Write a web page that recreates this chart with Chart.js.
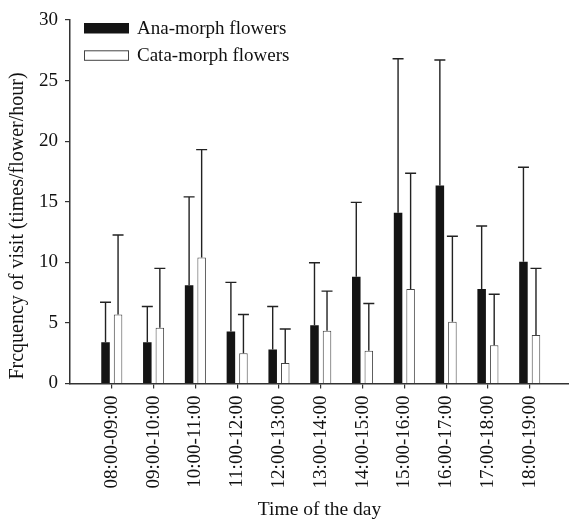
<!DOCTYPE html>
<html>
<head>
<meta charset="utf-8">
<script src="https://cdn.jsdelivr.net/npm/chart.js@4/dist/chart.umd.min.js"></script>
<style>
  html, body { margin: 0; padding: 0; background: #fff; }
  #wrap { width: 569px; height: 522px; }
</style>
</head>
<body>
<div id="wrap"><canvas id="chart"></canvas></div>
<script>
const TIME_LABELS = ['08:00-09:00', '09:00-10:00', '10:00-11:00', '11:00-12:00', '12:00-13:00', '13:00-14:00',
  '14:00-15:00', '15:00-16:00', '16:00-17:00', '17:00-18:00', '18:00-19:00'];
const ANA_MEAN = [3.4, 3.4, 8.1, 4.3, 2.8, 4.8, 8.8, 14.1, 16.35, 7.8, 10.05];
const ANA_UPPER = [6.7, 6.35, 15.4, 8.35, 6.35, 9.97, 14.95, 26.8, 26.7, 13.0, 17.85];
const CATA_MEAN = [5.7, 4.6, 10.4, 2.5, 1.7, 4.35, 2.7, 7.8, 5.1, 3.15, 4.0];
const CATA_UPPER = [12.25, 9.5, 19.3, 5.7, 4.5, 7.62, 6.6, 17.35, 12.15, 7.37, 9.5];
const Y_TICKS = [0, 5, 10, 15, 20, 25, 30];
const Y_TITLE = 'Frcquency of visit (times/flower/hour)';

const SERIF = "'Liberation Serif', 'DejaVu Serif', serif";
const AXIS_COLOR = '#333';

function toPoints(values) {
  return values.map((v, i) => ({ x: i, y: v }));
}

// upward error bars from the bar top to the upper value
const errorBars = {
  id: 'errorBars',
  afterDatasetsDraw(chart) {
    const ctx = chart.ctx;
    const yScale = chart.scales.y;
    chart.data.datasets.forEach((ds, di) => {
      const meta = chart.getDatasetMeta(di);
      meta.data.forEach((bar, i) => {
        const top = yScale.getPixelForValue(ds.upper[i]);
        ctx.save();
        ctx.strokeStyle = '#222';
        ctx.lineWidth = 1.4;
        ctx.beginPath();
        ctx.moveTo(bar.x, bar.y);
        ctx.lineTo(bar.x, top);
        ctx.moveTo(bar.x - 5.5, top);
        ctx.lineTo(bar.x + 5.5, top);
        ctx.stroke();
        ctx.restore();
      });
    });
  }
};

const insideLegend = {
  id: 'insideLegend',
  afterDraw(chart) {
    const ctx = chart.ctx;
    const left = chart.chartArea.left + 14;
    const top = chart.chartArea.top + 3;
    ctx.save();
    ctx.font = `19px ${SERIF}`;
    ctx.textBaseline = 'middle';
    chart.data.datasets.forEach((ds, i) => {
      const y = top + i * 27.3;
      ctx.fillStyle = ds.backgroundColor;
      ctx.fillRect(left, y, 45, 10.5);
      if (ds.borderWidth) {
        ctx.strokeStyle = ds.borderColor;
        ctx.lineWidth = 1;
        ctx.strokeRect(left + 0.5, y + 0.5, 44, 9.5);
      }
      ctx.fillStyle = '#111';
      ctx.fillText(ds.label, left + 53, y + 6);
    });
    ctx.restore();
  }
};

// y title sits a bit below the middle of the plot, so it is drawn by hand
const yTitle = {
  id: 'yTitle',
  afterDraw(chart) {
    const ctx = chart.ctx;
    ctx.save();
    ctx.translate(18, 226);
    ctx.rotate(-Math.PI / 2);
    ctx.font = `20px ${SERIF}`;
    ctx.fillStyle = '#111';
    ctx.textAlign = 'center';
    ctx.textBaseline = 'middle';
    ctx.fillText(Y_TITLE, 0, 0);
    ctx.restore();
  }
};

new Chart(document.getElementById('chart'), {
  type: 'bar',
  data: {
    datasets: [
      { label: 'Ana-morph flowers', data: toPoints(ANA_MEAN), upper: ANA_UPPER,
        backgroundColor: '#141414', borderWidth: 0 },
      { label: 'Cata-morph flowers', data: toPoints(CATA_MEAN), upper: CATA_UPPER,
        backgroundColor: '#ffffff', borderColor: '#444', borderWidth: 1 }
    ]
  },
  options: {
    responsive: true,
    maintainAspectRatio: false,
    animation: false,
    categoryPercentage: 0.6,
    barPercentage: 0.68,
    layout: { padding: { top: 20, right: 0, left: 0, bottom: 0 } },
    plugins: { legend: { display: false }, tooltip: { enabled: false } },
    scales: {
      x: {
        type: 'linear',
        offset: false,
        min: -1,
        max: 10.94,
        afterBuildTicks: (scale) => { scale.ticks = TIME_LABELS.map((_, i) => ({ value: i })); },
        afterFit: (scale) => { scale.height = 138.5; },
        grid: { display: true, offset: false, drawOnChartArea: false, tickLength: 5, color: AXIS_COLOR, lineWidth: 1.2 },
        border: { display: true, color: AXIS_COLOR, width: 1.5 },
        ticks: {
          autoSkip: false,
          minRotation: 90,
          maxRotation: 90,
          padding: 7,
          color: '#111',
          font: { family: SERIF, size: 19 },
          callback: (v) => TIME_LABELS[v]
        },
        title: {
          display: true,
          text: 'Time of the day',
          color: '#111',
          font: { family: SERIF, size: 19.5 },
          padding: { top: 0, bottom: 0 }
        }
      },
      y: {
        min: 0,
        max: 30,
        afterBuildTicks: (scale) => { scale.ticks = Y_TICKS.map(v => ({ value: v })); },
        afterFit: (scale) => { scale.width = 70; },
        grid: { display: true, drawOnChartArea: false, tickLength: 5, color: AXIS_COLOR, lineWidth: 1.2 },
        border: { display: true, color: AXIS_COLOR, width: 1.5 },
        ticks: {
          padding: 7,
          color: '#111',
          font: { family: SERIF, size: 19 }
        }
      }
    }
  },
  plugins: [errorBars, insideLegend, yTitle]
});
</script>
</body>
</html>
